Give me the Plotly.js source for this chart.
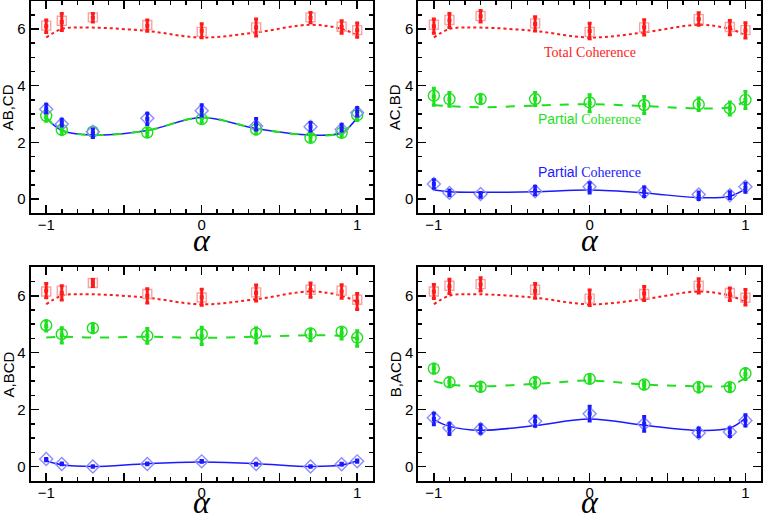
<!DOCTYPE html>
<html>
<head>
<meta charset="utf-8">
<script src="https://cdn.plot.ly/plotly-3.0.1.min.js"></script>
<style>
  body { margin: 0; background: #fff; }
  #coh { width: 763px; height: 522px; }
</style>
</head>
<body>
<div id="coh"></div>
<script>
var alpha = [-1, -0.9, -0.7, -0.35, 0, 0.35, 0.7, 0.9, 1];

// total coherence curve (same in every panel)
var totalCurve = [5.7, 6.0, 6.05, 5.93, 5.7, 5.88, 6.15, 6.0, 5.78];

// AB,CD
var abcdTotalTh = [6.12, 6.29, 6.41, 6.14, 5.9, 6.06, 6.41, 6.08, 5.96];
var abcdTotalEx = [6.1, 6.25, 6.4, 6.12, 5.94, 6.05, 6.4, 6.07, 5.96];
var abcdTotalEr = [0.22, 0.3, 0.15, 0.2, 0.25, 0.3, 0.18, 0.22, 0.25];
var abcdGreenTh = [2.94, 2.44, 2.38, 2.35, 2.82, 2.46, 2.16, 2.34, 2.96];
var abcdGreenEx = [2.9, 2.45, 2.32, 2.36, 2.85, 2.48, 2.18, 2.36, 2.92];
var abcdGreenEr = [0.15, 0.15, 0.15, 0.15, 0.15, 0.18, 0.15, 0.15, 0.15];
var abcdGreenCurve = [2.88, 2.42, 2.26, 2.42, 2.88, 2.49, 2.26, 2.34, 2.88];
var abcdBlueTh = [3.17, 2.65, 2.38, 2.85, 3.12, 2.58, 2.55, 2.46, 3.05];
var abcdBlueEx = [3.2, 2.7, 2.32, 2.83, 3.13, 2.64, 2.55, 2.52, 3.08];
var abcdBlueEr = [0.15, 0.12, 0.15, 0.2, 0.2, 0.2, 0.15, 0.12, 0.15];
var abcdBlueCurve = [2.88, 2.42, 2.26, 2.42, 2.88, 2.49, 2.26, 2.34, 2.88];

// AC,BD
var acbdTotalTh = [6.15, 6.32, 6.46, 6.2, 5.9, 6.06, 6.35, 6.07, 5.96];
var acbdTotalEx = [6.1, 6.3, 6.45, 6.18, 5.93, 6.06, 6.35, 6.05, 5.95];
var acbdTotalEr = [0.25, 0.25, 0.2, 0.25, 0.27, 0.27, 0.22, 0.25, 0.27];
var acbdGreenTh = [3.65, 3.53, 3.53, 3.53, 3.41, 3.32, 3.34, 3.2, 3.5];
var acbdGreenEx = [3.61, 3.52, 3.53, 3.53, 3.38, 3.32, 3.35, 3.2, 3.5];
var acbdGreenEr = [0.3, 0.24, 0.15, 0.23, 0.3, 0.3, 0.22, 0.23, 0.3];
var acbdGreenCurve = [3.32, 3.28, 3.24, 3.3, 3.35, 3.28, 3.2, 3.24, 3.46];
var acbdBlueTh = [0.53, 0.22, 0.18, 0.28, 0.44, 0.25, 0.16, 0.14, 0.44];
var acbdBlueEx = [0.53, 0.22, 0.15, 0.3, 0.4, 0.26, 0.12, 0.14, 0.4];
var acbdBlueEr = [0.15, 0.1, 0.08, 0.15, 0.18, 0.17, 0.13, 0.12, 0.16];
var acbdBlueCurve = [0.32, 0.26, 0.24, 0.26, 0.32, 0.22, 0.05, 0.1, 0.36];

// A,BCD
var abcdaTotalTh = [6.15, 6.18, 6.45, 6.06, 5.94, 6.12, 6.21, 6.18, 5.86];
var abcdaTotalEx = [6.18, 6.1, 6.45, 6.0, 5.95, 6.1, 6.2, 6.15, 5.8];
var abcdaTotalEr = [0.25, 0.25, 0.12, 0.25, 0.28, 0.28, 0.25, 0.24, 0.28];
var abcdaGreenTh = [4.96, 4.65, 4.86, 4.59, 4.65, 4.68, 4.68, 4.74, 4.53];
var abcdaGreenEx = [4.94, 4.61, 4.87, 4.59, 4.59, 4.61, 4.62, 4.68, 4.5];
var abcdaGreenEr = [0.18, 0.27, 0.14, 0.26, 0.3, 0.27, 0.2, 0.2, 0.27];
var abcdaGreenCurve = [4.53, 4.56, 4.53, 4.56, 4.52, 4.56, 4.61, 4.59, 4.5];
var abcdaBlueTh = [0.26, 0.09, 0.0, 0.09, 0.18, 0.09, 0.0, 0.08, 0.18];
var abcdaBlueEx = [0.24, 0.09, 0.0, 0.09, 0.18, 0.08, 0.0, 0.08, 0.19];
var abcdaBlueEr = [0.04, 0.03, 0.02, 0.03, 0.03, 0.03, 0.02, 0.03, 0.04];
var abcdaBlueCurve = [0.2, 0.06, 0.0, 0.1, 0.16, 0.1, 0.0, 0.05, 0.2];

// B,ACD
var bacdTotalTh = [6.15, 6.35, 6.41, 6.21, 5.9, 6.06, 6.35, 6.1, 5.93];
var bacdTotalEx = [6.15, 6.33, 6.4, 6.17, 5.93, 6.08, 6.35, 6.05, 5.95];
var bacdTotalEr = [0.25, 0.25, 0.23, 0.26, 0.27, 0.25, 0.25, 0.22, 0.27];
var bacdGreenTh = [3.44, 2.96, 2.8, 2.96, 3.08, 2.88, 2.79, 2.79, 3.27];
var bacdGreenEx = [3.44, 2.97, 2.8, 2.94, 3.07, 2.86, 2.78, 2.78, 3.25];
var bacdGreenEr = [0.15, 0.15, 0.15, 0.18, 0.13, 0.13, 0.16, 0.14, 0.19];
var bacdGreenCurve = [3.0, 2.88, 2.82, 2.9, 3.02, 2.88, 2.82, 2.85, 3.12];
var bacdBlueTh = [1.71, 1.35, 1.32, 1.59, 1.85, 1.5, 1.18, 1.21, 1.62];
var bacdBlueEx = [1.67, 1.32, 1.32, 1.59, 1.86, 1.5, 1.2, 1.2, 1.62];
var bacdBlueEr = [0.2, 0.2, 0.15, 0.18, 0.26, 0.26, 0.15, 0.15, 0.2];
var bacdBlueCurve = [1.65, 1.41, 1.27, 1.44, 1.67, 1.45, 1.27, 1.35, 1.7];

var panelLabels = ['AB,CD', 'AC,BD', 'A,BCD', 'B,ACD'];

var RED = '#ff1a1a', PINK = '#f7a3a3';
var GREEN = '#1fe01f', BLUE = '#1a1aff', PALEBLUE = '#8c8cff';

function curve(y, color, dash, width, xa, ya) {
    return {x: alpha, y: y, xaxis: xa, yaxis: ya, mode: 'lines', hoverinfo: 'skip',
        line: {color: color, dash: dash, width: width, shape: 'spline', smoothing: 1}};
}
function theory(y, symbol, color, size, xa, ya) {
    return {x: alpha, y: y, xaxis: xa, yaxis: ya, mode: 'markers',
        marker: {symbol: symbol, size: size, color: color, line: {color: color, width: 1.4}}};
}
function measured(y, err, color, xa, ya) {
    return {x: alpha, y: y, xaxis: xa, yaxis: ya, mode: 'markers',
        marker: {symbol: 'square', size: 4, color: color},
        error_y: {type: 'data', array: err, visible: true, color: color, thickness: 3, width: 2}};
}

var panels = [
    [abcdTotalTh, abcdTotalEx, abcdTotalEr, abcdGreenTh, abcdGreenEx, abcdGreenEr, abcdGreenCurve, abcdBlueTh, abcdBlueEx, abcdBlueEr, abcdBlueCurve],
    [acbdTotalTh, acbdTotalEx, acbdTotalEr, acbdGreenTh, acbdGreenEx, acbdGreenEr, acbdGreenCurve, acbdBlueTh, acbdBlueEx, acbdBlueEr, acbdBlueCurve],
    [abcdaTotalTh, abcdaTotalEx, abcdaTotalEr, abcdaGreenTh, abcdaGreenEx, abcdaGreenEr, abcdaGreenCurve, abcdaBlueTh, abcdaBlueEx, abcdaBlueEr, abcdaBlueCurve],
    [bacdTotalTh, bacdTotalEx, bacdTotalEr, bacdGreenTh, bacdGreenEx, bacdGreenEr, bacdGreenCurve, bacdBlueTh, bacdBlueEx, bacdBlueEr, bacdBlueCurve]
];

var data = [];
panels.forEach(function (p, i) {
    var xa = i === 0 ? 'x' : 'x' + (i + 1);
    var ya = i === 0 ? 'y' : 'y' + (i + 1);
    data.push(curve(p[10], BLUE, 'solid', 1.5, xa, ya));
    data.push(curve(p[6], GREEN, 'dash', 2, xa, ya));
    data.push(curve(totalCurve, RED, 'dot', 2, xa, ya));
    data.push(theory(p[0], 'square-open', PINK, 9, xa, ya));
    data.push(theory(p[3], 'circle-open', GREEN, 11, xa, ya));
    data.push(theory(p[7], 'diamond-open', PALEBLUE, 10, xa, ya));
    data.push(measured(p[1], p[2], RED, xa, ya));
    data.push(measured(p[4], p[5], GREEN, xa, ya));
    data.push(measured(p[8], p[9], BLUE, xa, ya));
});

var font = {family: 'Liberation Sans, Arial, sans-serif', size: 15, color: '#000'};

function xAxis(domain, anchor) {
    return {domain: domain, anchor: anchor, range: [-1.1, 1.1],
        tickmode: 'array', tickvals: [-1, -0.5, 0, 0.5, 1], ticktext: ['\u22121', '', '0', '', '1'],
        ticks: 'inside', ticklen: 8, tickwidth: 1.5, tickcolor: '#000', ticklabelstandoff: -3,
        minor: {tickmode: 'linear', tick0: 0, dtick: 0.1, ticks: 'inside', ticklen: 4, tickwidth: 1.5, tickcolor: '#000'},
        showline: true, linewidth: 2, linecolor: '#000', mirror: 'allticks',
        showgrid: false, zeroline: false, tickfont: font};
}
function yAxis(domain, anchor) {
    return {domain: domain, anchor: anchor, range: [-0.5, 7],
        tickmode: 'linear', tick0: 0, dtick: 2,
        ticks: 'inside', ticklen: 8, tickwidth: 1.5, tickcolor: '#000',
        minor: {tickmode: 'linear', tick0: 0, dtick: 0.5, ticks: 'inside', ticklen: 4, tickwidth: 1.5, tickcolor: '#000'},
        showline: true, linewidth: 2, linecolor: '#000', mirror: 'allticks',
        showgrid: false, zeroline: false, tickfont: font};
}

var colL = [0.0402, 0.4885], colR = [0.5482, 0.9974];
var rowT = [0.5914, 0.9987], rowB = [0.0791, 0.4879];

var annotations = [];
var titleY = [(rowT[0] + rowT[1]) / 2, (rowT[0] + rowT[1]) / 2, (rowB[0] + rowB[1]) / 2, (rowB[0] + rowB[1]) / 2];
var titleX = [0.011, 0.518, 0.011, 0.518];
panelLabels.forEach(function (lab, i) {
    annotations.push({xref: 'paper', yref: 'paper', x: titleX[i], y: titleY[i], text: lab,
        textangle: -90, showarrow: false, font: font, xanchor: 'center', yanchor: 'middle'});
    var cx = i % 2 === 0 ? (colL[0] + colL[1]) / 2 : (colR[0] + colR[1]) / 2;
    var cy = i < 2 ? 1 - 260 / 522 : 1 - 522 / 522;
    annotations.push({xref: 'paper', yref: 'paper', x: cx, y: cy, text: '\u03b1', showarrow: false,
        font: {family: 'Liberation Serif, Times New Roman, serif', size: 32, color: '#000', style: 'italic'},
        xanchor: 'center', yanchor: 'bottom'});
});

var serif = 'Liberation Serif, Times New Roman, serif';
var sans = 'Liberation Sans, Arial, sans-serif';
annotations.push({xref: 'x2', yref: 'y2', x: 0, y: 5.16, text: 'Total Coherence', showarrow: false,
    font: {family: serif, size: 14, color: RED}});
annotations.push({xref: 'x2', yref: 'y2', x: 0, y: 2.82,
    text: '<span style="font-family:' + sans + '">Partial</span> Coherence', showarrow: false,
    font: {family: serif, size: 14, color: GREEN}});
annotations.push({xref: 'x2', yref: 'y2', x: 0, y: 0.96,
    text: '<span style="font-family:' + sans + '">Partial</span> Coherence', showarrow: false,
    font: {family: serif, size: 14, color: BLUE}});

var layout = {
    width: 763, height: 522,
    margin: {l: 0, r: 0, t: 0, b: 0},
    paper_bgcolor: '#fff', plot_bgcolor: '#fff',
    showlegend: false,
    font: font,
    xaxis: xAxis(colL, 'y'), yaxis: yAxis(rowT, 'x'),
    xaxis2: xAxis(colR, 'y2'), yaxis2: yAxis(rowT, 'x2'),
    xaxis3: xAxis(colL, 'y3'), yaxis3: yAxis(rowB, 'x3'),
    xaxis4: xAxis(colR, 'y4'), yaxis4: yAxis(rowB, 'x4'),
    annotations: annotations
};

Plotly.newPlot('coh', data, layout, {displayModeBar: false, staticPlot: true});
</script>
</body>
</html>
